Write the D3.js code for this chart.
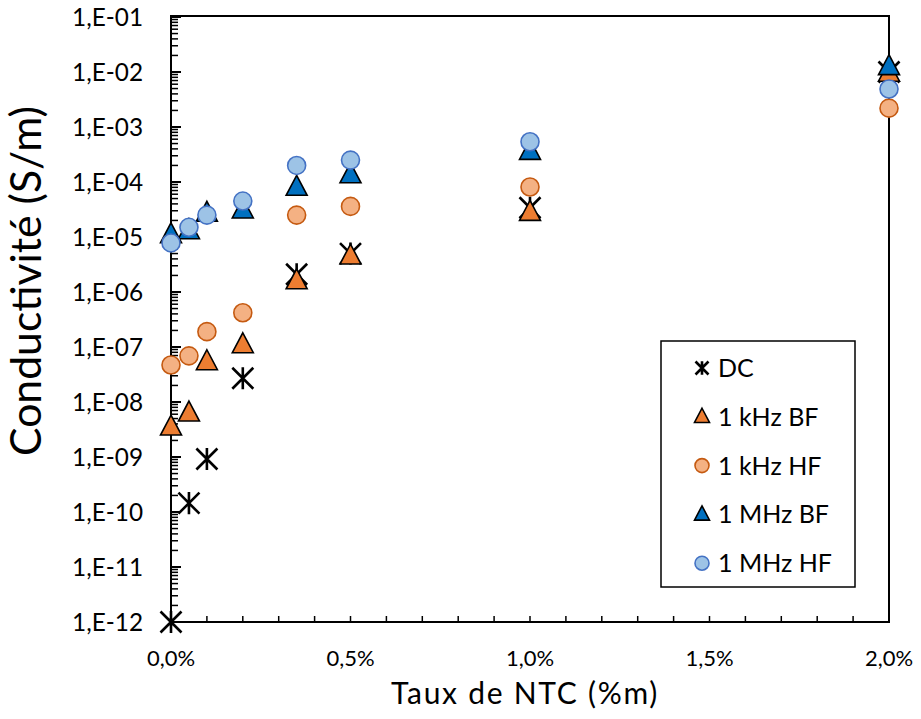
<!DOCTYPE html>
<html><head><meta charset="utf-8">
<script src="https://cdn.jsdelivr.net/npm/d3@7"></script>
<style>body{margin:0;background:#fff}svg{display:block}text{font-family:Lato,"Open Sans",sans-serif;fill:#000}</style>
</head><body>
<svg id="c" width="921" height="719"></svg>
<script>
// Data
const xValues = [0, 0.0005, 0.001, 0.002, 0.0035, 0.005, 0.01, 0.02];
const dc      = [1e-12, 1.45e-10, 9.2e-10, 2.7e-8, 2.1e-6, 5.0e-6, 3.4e-5, 1.0e-2];
const kHzBF   = [3.5e-9, 6.3e-9, 5.4e-8, 1.1e-7, 1.6e-6, 4.5e-6, 2.8e-5, 9.5e-3];
const kHzHF   = [4.7e-8, 6.9e-8, 1.9e-7, 4.2e-7, 2.5e-5, 3.6e-5, 8.1e-5, 2.2e-3];
const MHzBF   = [1.1e-5, 1.3e-5, 2.7e-5, 3.1e-5, 8.0e-5, 1.35e-4, 3.6e-4, 1.25e-2];
const MHzHF   = [7.8e-6, 1.5e-5, 2.5e-5, 4.5e-5, 2.0e-4, 2.5e-4, 5.4e-4, 4.9e-3];
const seriesNames = ["DC", "1 kHz BF", "1 kHz HF", "1 MHz BF", "1 MHz HF"];
const yTickExps = [-1,-2,-3,-4,-5,-6,-7,-8,-9,-10,-11,-12];
const xTickLabels = [0, 0.005, 0.01, 0.015, 0.02];

const series = [
  {name: seriesNames[0], values: dc,    type: "star"},
  {name: seriesNames[1], values: kHzBF, type: "tri",    fill: "#ED7D31", stroke: "#000"},
  {name: seriesNames[2], values: kHzHF, type: "circle", fill: "#F4B183", stroke: "#C55A11"},
  {name: seriesNames[3], values: MHzBF, type: "tri",    fill: "#0070C0", stroke: "#000"},
  {name: seriesNames[4], values: MHzHF, type: "circle", fill: "#9DC3E6", stroke: "#4472C4"}
];

const svg = d3.select("#c");
const L = 171, R = 889, T = 17, B = 622;
const x = d3.scaleLinear().domain([0, 0.02]).range([L, R]);
const y = d3.scaleLog().domain([1e-12, 1e-1]).range([B, T]);

function fit(sel, target) {
  const fs = +sel.attr("font-size");
  const w = sel.node().getComputedTextLength();
  if (w > 0) sel.attr("font-size", fs * target / w);
  return sel;
}

// minor y ticks
const minor = [];
for (let e = -12; e < -1; e++) for (let m = 2; m <= 9; m++) minor.push(m * Math.pow(10, e));
svg.append("g").selectAll("line").data(minor).join("line")
  .attr("x1", L).attr("x2", L + 7).attr("y1", d => y(d)).attr("y2", d => y(d))
  .attr("stroke", "#000").attr("stroke-width", 1.5);
// major y ticks
svg.append("g").selectAll("line").data(yTickExps).join("line")
  .attr("x1", L).attr("x2", L + 10).attr("y1", d => y(Math.pow(10, d))).attr("y2", d => y(Math.pow(10, d)))
  .attr("stroke", "#000").attr("stroke-width", 2);
// x ticks every 0.1%
const xt = d3.range(1, 20).map(i => i * 0.001);
svg.append("g").selectAll("line").data(xt).join("line")
  .attr("x1", d => x(d)).attr("x2", d => x(d)).attr("y1", B).attr("y2", B - 6)
  .attr("stroke", "#000").attr("stroke-width", 1.5);

// frame
svg.append("rect").attr("x", L).attr("y", T - 1).attr("width", R - L).attr("height", B - T + 1)
  .attr("fill", "none").attr("stroke", "#000").attr("stroke-width", 2);

// y labels
const yl = svg.append("g").selectAll("text").data(yTickExps).join("text")
  .attr("x", 143).attr("y", d => y(Math.pow(10, d))).attr("dy", "0.36em")
  .attr("text-anchor", "end").attr("font-size", 21)
  .text(d => "1,E-" + String(-d).padStart(2, "0"));
fit(d3.select(yl.nodes()[0]), 71);
yl.attr("font-size", d3.select(yl.nodes()[0]).attr("font-size"));
// x labels
const xl = svg.append("g").selectAll("text").data(xTickLabels).join("text")
  .attr("x", d => x(d)).attr("y", 658).attr("dy", "0.36em")
  .attr("text-anchor", "middle").attr("font-size", 22)
  .text(d => (d * 100).toFixed(1).replace(".", ",") + "%");

// titles
const xtT = svg.append("text").attr("x", 525).attr("y", 704).attr("text-anchor", "middle")
  .attr("font-size", 30).text("Taux de NTC (%m)");
{
  const w = xtT.node().getComputedTextLength();
  xtT.attr("letter-spacing", Math.max(0, (268 - w) / 16));
}
const ytT = svg.append("text").attr("transform", "translate(41,281) rotate(-90)")
  .attr("text-anchor", "middle").attr("font-size", 27).text("Conductivité (S/m)");
fit(ytT, 350);

function drawMarker(g, type, s, fill, stroke) {
  if (type === "star") {
    const h = s / 2;
    g.append("path").attr("d", `M${-h},${-h}L${h},${h}M${-h},${h}L${h},${-h}M0,${-h * 1.05}L0,${h * 1.05}`)
      .attr("stroke", "#000").attr("stroke-width", 2.6).attr("fill", "none");
  } else if (type === "tri") {
    const w = s, hgt = s * 0.95;
    g.append("path").attr("d", `M0,${-hgt * 0.6}L${w / 2},${hgt * 0.4}L${-w / 2},${hgt * 0.4}Z`)
      .attr("fill", fill).attr("stroke", stroke).attr("stroke-width", 1.6).attr("stroke-linejoin", "miter");
  } else {
    g.append("circle").attr("r", s / 2 - 0.5).attr("fill", fill).attr("stroke", stroke).attr("stroke-width", 1.6);
  }
}

series.forEach(sr => {
  const g = svg.append("g");
  sr.values.forEach((v, i) => {
    const m = g.append("g").attr("transform", `translate(${x(xValues[i])},${y(v)})`);
    drawMarker(m, sr.type, sr.type === "star" ? 21 : (sr.type === "tri" ? 21 : 19), sr.fill, sr.stroke);
  });
});

// legend
const lg = svg.append("g");
lg.append("rect").attr("x", 661).attr("y", 341).attr("width", 194).attr("height", 246)
  .attr("fill", "#fff").attr("stroke", "#000").attr("stroke-width", 1.5);
let legFs = null;
series.forEach((sr, i) => {
  const cy = 368 + i * 48.8;
  const m = lg.append("g").attr("transform", `translate(702,${cy})`);
  drawMarker(m, sr.type, sr.type === "star" ? 13 : 15, sr.fill, sr.stroke);
  const t = lg.append("text").attr("x", 718).attr("y", cy).attr("dy", "0.36em").attr("font-size", 23).text(sr.name);
  if (i === 4) { fit(t, 114); legFs = t.attr("font-size"); }
});
lg.selectAll("text").attr("font-size", legFs);
</script>
</body></html>
